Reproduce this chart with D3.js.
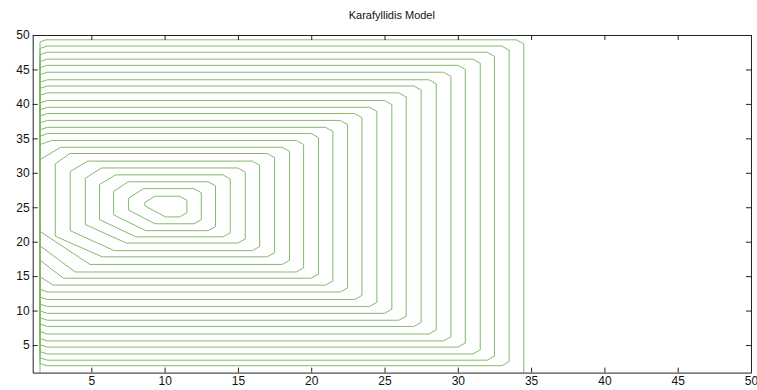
<!DOCTYPE html>
<html>
<head>
<meta charset="utf-8">
<script src="https://cdn.jsdelivr.net/npm/d3@7"></script>
<style>
  body { margin: 0; background: #ffffff; }
  svg text { font-family: "Liberation Sans", Arial, Helvetica, sans-serif; }
</style>
</head>
<body>
<svg id="chart" width="757" height="390"></svg>
<script>
// ---------- data ----------
const chartTitle = "Karafyllidis Model";
const xTicks = [5, 10, 15, 20, 25, 30, 35, 40, 45, 50];
const yTicks = [5, 10, 15, 20, 25, 30, 35, 40, 45, 50];

// contour index 0 = innermost (around the ignition point), 23 = outermost
const contourRight  = [11.52, 12.5, 13.47, 14.48, 15.5, 16.48, 17.5, 18.52, 19.48, 20.5, 21.48, 22.48,
                       23.46, 24.48, 25.5, 26.48, 27.5, 28.53, 29.53, 30.51, 31.53, 32.5, 33.5, 34.5];
const contourTop    = [26.6, 27.7, 28.7, 29.7, 30.7, 31.7, 32.8, 33.7, 34.7, 35.7, 36.6, 37.6,
                       38.6, 39.5, 40.5, 41.6, 42.6, 43.5, 44.6, 45.6, 46.5, 47.5, 48.4, 49.3];
// null = contour leaves the domain through the bottom border (open)
const contourBottom = [23.6, 22.6, 21.6, 20.7, 19.8, 18.7, 17.8, 16.7, 15.6, 14.7, 13.7, 12.7,
                       11.6, 10.6, 9.6, 8.6, 7.7, 6.6, 5.6, 4.7, 3.7, 2.8, 2.0, null];
// left edge; null = contour runs into the left border strip
const contourLeft   = [8.65, 7.54, 6.52, 5.56, 4.59, 3.56, 2.54, null, null, null, null, null,
                       null, null, null, null, null, null, null, null, null, null, null, null];
const leftStripX = 1.5;
const domainBottom = 1;
// top-left corner cut [dx, dy]
const cornerTL = [[0.7, 0.9], [1.0, 1.4], [1.0, 1.4], [1.1, 1.4], [1.1, 1.5], [1.2, 1.5], [1.0, 1.5],
                  [1.4, 1.8], [0.8, 0.6], [0.5, 0.4], [0.5, 0.35], [0.5, 0.35], [0.5, 0.35], [0.5, 0.35],
                  [0.5, 0.35], [0.5, 0.35], [0.5, 0.35], [0.5, 0.35], [0.5, 0.35], [0.5, 0.35], [0.5, 0.35],
                  [0.5, 0.35], [0.5, 0.35], [0.4, 0.3]];
// bottom-left corner cut [dx, dy]
const cornerBL = [[1.4, 1.6], [1.8, 2.0], [2.2, 2.3], [2.5, 2.5], [2.8, 2.7], [3.0, 2.9], [3.2, 3.0],
                  [3.4, 4.8], [2.4, 3.8], [1.6, 2.6], [0.9, 1.2], [0.5, 0.4], [0.5, 0.35], [0.5, 0.35],
                  [0.5, 0.35], [0.5, 0.35], [0.5, 0.35], [0.5, 0.35], [0.5, 0.35], [0.5, 0.35], [0.5, 0.35],
                  [0.5, 0.35], [0.5, 0.3], [0.4, 0.3]];
// right-hand corner cut [dx, dy]
const cornerRight = [0.5, 0.6];

// ---------- layout ----------
const svg = d3.select("#chart");
const x = d3.scaleLinear().domain([1, 50]).range([32.7, 751]);
const y = d3.scaleLinear().domain([1, 50]).range([372.6, 35]);

// ---------- contours ----------
function contourPoints(k) {
  const L = contourLeft[k], R = contourRight[k], T = contourTop[k], B = contourBottom[k];
  const tl = cornerTL[k], bl = cornerBL[k], rc = cornerRight;
  const lx = (L === null) ? leftStripX : L;
  if (B === null) {
    // open contour: enters along the left strip from the bottom border, exits on the right
    return [
      [lx, domainBottom], [lx, T - tl[1]], [lx + tl[0], T],
      [R - rc[0], T], [R, T - rc[1]], [R, domainBottom]
    ];
  }
  return [
    [lx, T - tl[1]], [lx + tl[0], T],
    [R - rc[0], T], [R, T - rc[1]],
    [R, B + rc[1]], [R - rc[0], B],
    [lx + bl[0], B], [lx, B + bl[1]],
    [lx, T - tl[1]]
  ];
}
const line = d3.line().x(d => x(d[0])).y(d => y(d[1]));

svg.append("g").attr("class", "contours")
  .selectAll("path")
  .data(d3.range(contourRight.length))
  .join("path")
  .attr("d", k => line(contourPoints(k)))
  .attr("fill", "none")
  .attr("stroke", "#84b96a")
  .attr("stroke-width", 1)
  .attr("stroke-linejoin", "round");

// ---------- axes (MATLAB style box, ticks inward) ----------
const axisColor = "#222";
const tickLen = 5;
const gx = svg.append("g").attr("transform", `translate(0,${y(1)})`)
  .call(d3.axisBottom(x).tickValues(xTicks).tickSizeInner(-tickLen).tickSizeOuter(0).tickPadding(4));
const gxTop = svg.append("g").attr("transform", `translate(0,${y(50)})`)
  .call(d3.axisTop(x).tickValues(xTicks).tickSizeInner(-tickLen).tickSizeOuter(0).tickFormat(""));
const gy = svg.append("g").attr("transform", `translate(${x(1)},0)`)
  .call(d3.axisLeft(y).tickValues(yTicks).tickSizeInner(-tickLen).tickSizeOuter(0).tickPadding(3));
const gyRight = svg.append("g").attr("transform", `translate(${x(50)},0)`)
  .call(d3.axisRight(y).tickValues(yTicks).tickSizeInner(-tickLen).tickSizeOuter(0).tickFormat(""));

[gx, gxTop, gy, gyRight].forEach(g => {
  g.selectAll(".domain").attr("stroke", axisColor).attr("stroke-width", 1);
  g.selectAll(".tick line").attr("stroke", axisColor).attr("stroke-width", 1);
  g.selectAll(".tick text").attr("fill", "#111").attr("font-size", 12)
    .attr("font-family", "'Liberation Sans', Arial, sans-serif");
});

// title
svg.append("text")
  .attr("x", (x(1) + x(50)) / 2)
  .attr("y", 19)
  .attr("text-anchor", "middle")
  .attr("font-size", 11)
  .attr("fill", "#111")
  .text(chartTitle);
</script>
</body>
</html>
